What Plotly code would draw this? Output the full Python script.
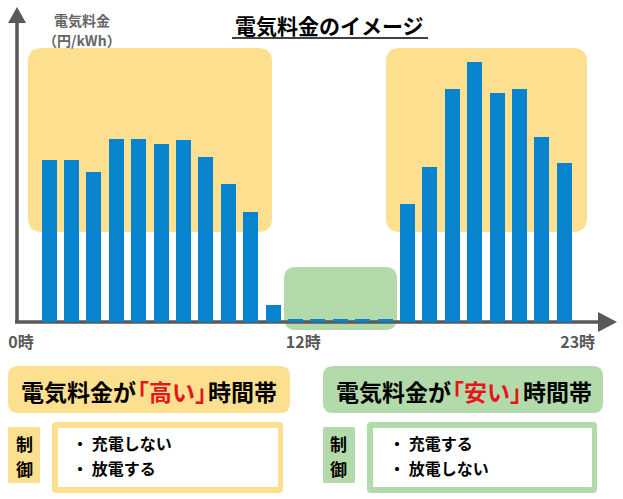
import plotly.graph_objects as go

W, H = 623, 499

# ---- data ----
hours = list(range(24))
price = [16.2, 16.2, 15.0, 18.3, 18.3, 17.8, 18.2, 16.5, 13.8, 11.0, 1.7,
         0.3, 0.3, 0.3, 0.3, 0.3, 11.8, 15.5, 23.3, 26.0, 22.9, 23.3, 18.5, 15.9]
tick_hours = [-1.25, 11.35, 23.6]
tick_labels = ["0時", "12時", "23時"]

title_text = "電気料金のイメージ"
ylabel_1 = "電気料金"
ylabel_2 = "（円/kWh）"
high_head = ["電気料金が", "高い", "時間帯"]
low_head = ["電気料金が", "安い", "時間帯"]
high_ctrl = ["充電しない", "放電する"]
low_ctrl = ["充電する", "放電しない"]
ctrl_label = ["制", "御"]

FONT = "Noto Sans CJK JP"
BLUE = "#0884CE"
YEL = "#FDE08F"
GRN = "#B2DAAA"
AX = "#595959"
RED = "#E8141C"


def X(p):
    return p / W


def Y(p):
    return 1 - p / H


def rrect(x0, y0, x1, y1, r, color, layer="below"):
    rx, ry = r, r
    pts = [
        ("M", [(x0 + rx, y0)]), ("L", [(x1 - rx, y0)]), ("Q", [(x1, y0), (x1, y0 + ry)]),
        ("L", [(x1, y1 - ry)]), ("Q", [(x1, y1), (x1 - rx, y1)]),
        ("L", [(x0 + rx, y1)]), ("Q", [(x0, y1), (x0, y1 - ry)]),
        ("L", [(x0, y0 + ry)]), ("Q", [(x0, y0), (x0 + rx, y0)]),
    ]
    d = ""
    for cmd, ps in pts:
        d += cmd + " ".join(f"{X(a):.5f},{Y(b):.5f}" for a, b in ps) + " "
    d += "Z"
    return dict(type="path", path=d, xref="paper", yref="paper",
                fillcolor=color, line=dict(width=0), layer=layer)


def tri(pts, color):
    d = "M" + " L".join(f"{X(a):.5f},{Y(b):.5f}" for a, b in pts) + " Z"
    return dict(type="path", path=d, xref="paper", yref="paper",
                fillcolor=color, line=dict(width=0), layer="above")


def line(x0, y0, x1, y1, color, w, layer="below"):
    return dict(type="line", xref="paper", yref="paper", x0=X(x0), y0=Y(y0),
                x1=X(x1), y1=Y(y1), line=dict(color=color, width=w), layer=layer)


def ann(text, x, y, size, color="#000", xanchor="center"):
    return dict(text=text, x=X(x), y=Y(y), xref="paper", yref="paper",
                showarrow=False, xanchor=xanchor, yanchor="middle",
                font=dict(family=FONT, size=size, color=color))


def head(parts):
    tight = "letter-spacing:-10px"
    return (f"<b>{parts[0][:-1]}<span style='{tight}'>{parts[0][-1]}</span>"
            f"<span style='color:{RED}'>「{parts[1]}</span>"
            f"<span style='color:{RED};{tight}'>」</span>{parts[2]}</b>")


fig = go.Figure()
fig.add_trace(go.Bar(x=hours, y=price, marker=dict(color=BLUE, line=dict(width=0)),
                     width=0.67, hoverinfo="skip"))

shapes = [
    rrect(28, 48, 272, 232, 14, YEL),
    rrect(386, 48, 587, 232, 14, YEL),
    rrect(284, 267, 397, 330, 12, GRN),
    line(15, 322, 600, 322, AX, 3.5),
    tri([(617, 322), (598, 312), (598, 332)], AX),
    line(17, 323, 17, 20, AX, 3.5, "above"),
    tri([(17, 7), (8, 23), (26, 23)], AX),
    line(232, 38, 428, 38, "#000", 1.5, "above"),
    # bottom panels
    rrect(8, 366, 290, 413, 10, YEL, "above"),
    rrect(323, 366, 603, 413, 10, GRN, "above"),
    rrect(8, 427, 40, 483, 2, YEL, "above"),
    rrect(323, 427, 355, 483, 2, GRN, "above"),
    rrect(52, 422, 283, 493, 4, YEL, "above"),
    rrect(58, 428, 278, 487, 1, "#FFFFFF", "above"),
    rrect(367, 422, 597, 493, 4, GRN, "above"),
    rrect(373, 428, 592, 487, 1, "#FFFFFF", "above"),
]

annotations = [
    ann(f"<b>{title_text}</b>", 330, 25, 21),
    ann(f"<b>{ylabel_1}</b>", 82, 20, 14, "#666666"),
    ann(f"<b>{ylabel_2}</b>", 82, 40, 14, "#666666"),
    ann(head(high_head), 148.5, 391, 23),
    ann(head(low_head), 464, 391, 23),
    ann(f"<b>{ctrl_label[0]}</b>", 24, 443, 17),
    ann(f"<b>{ctrl_label[1]}</b>", 24, 468, 17),
    ann(f"<b>{ctrl_label[0]}</b>", 339, 443, 17),
    ann(f"<b>{ctrl_label[1]}</b>", 339, 468, 17),
    ann(f"<b>・ {high_ctrl[0]}</b>", 70, 443, 16, xanchor="left"),
    ann(f"<b>・ {high_ctrl[1]}</b>", 70, 468, 16, xanchor="left"),
    ann(f"<b>・ {low_ctrl[0]}</b>", 387, 443, 16, xanchor="left"),
    ann(f"<b>・ {low_ctrl[1]}</b>", 387, 468, 16, xanchor="left"),
]

x0 = -49 / 22.4
x1 = (W - 49) / 22.4
fig.update_layout(
    width=W, height=H, autosize=False,
    margin=dict(l=0, r=0, t=0, b=0, pad=0),
    paper_bgcolor="white", plot_bgcolor="rgba(0,0,0,0)",
    showlegend=False,
    xaxis=dict(domain=[0, 1], range=[x0, x1], showgrid=False, zeroline=False,
               showline=False, ticks="", tickvals=tick_hours,
               ticktext=[f"<b>{t}</b>" for t in tick_labels],
               tickfont=dict(family=FONT, size=16, color=AX),
               ticklabelstandoff=9, fixedrange=True),
    yaxis=dict(domain=[(H - 322) / H, 1], range=[0, 32.2], visible=False,
               fixedrange=True),
    shapes=shapes, annotations=annotations,
    bargap=0,
)

fig.write_html("out.html", config={"displayModeBar": False},
               post_script="document.body.style.margin='0';document.body.style.overflow='hidden';")
